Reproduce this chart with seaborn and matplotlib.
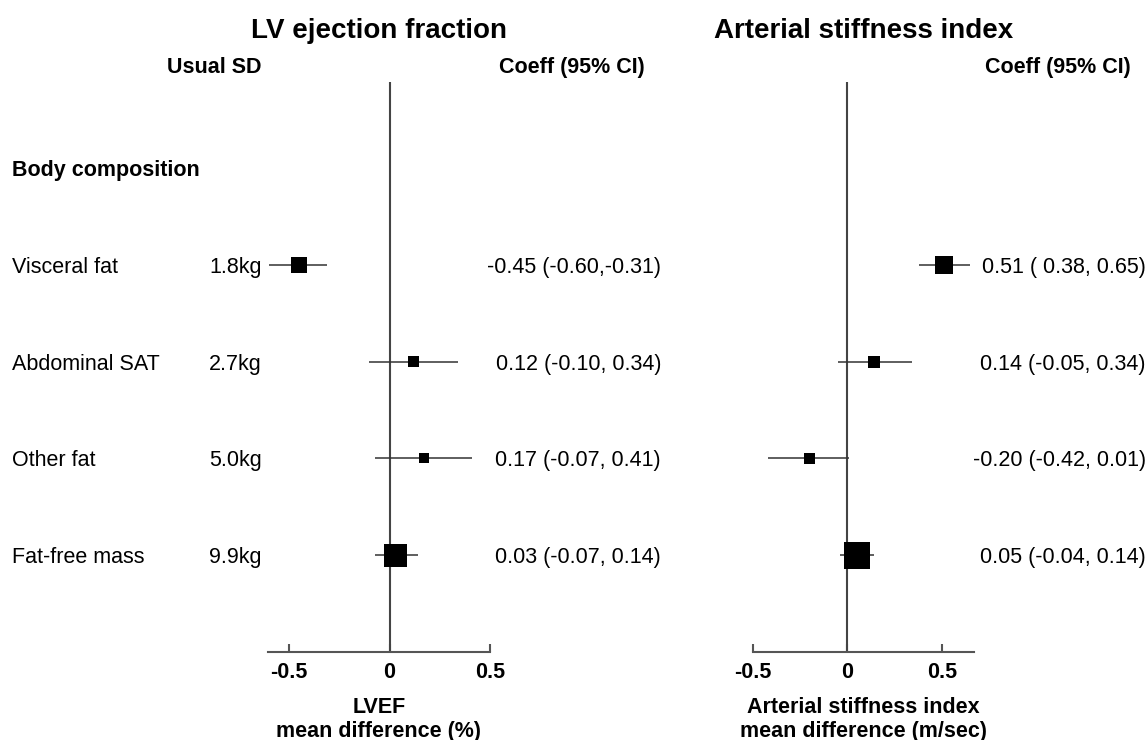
import numpy as np
import pandas as pd
import matplotlib
matplotlib.use("Agg")
import matplotlib.pyplot as plt
import matplotlib.transforms as mtransforms
import seaborn as sns

# ---------------- data ----------------
categories = ["Visceral fat", "Abdominal SAT", "Other fat", "Fat-free mass"]
usual_sd = ["1.8kg", "2.7kg", "5.0kg", "9.9kg"]
section_label = "Body composition"

lvef_coef = [-0.45, 0.12, 0.17, 0.03]
lvef_lo = [-0.60, -0.10, -0.07, -0.07]
lvef_hi = [-0.31, 0.34, 0.41, 0.14]

asi_coef = [0.51, 0.14, -0.20, 0.05]
asi_lo = [0.38, -0.05, -0.42, -0.04]
asi_hi = [0.65, 0.34, 0.01, 0.14]

xticks = [-0.5, 0, 0.5]
xtick_labels = ["-0.5", "0", "0.5"]

titles = ["LV ejection fraction", "Arterial stiffness index"]
xlabels = ["LVEF\nmean difference (%)", "Arterial stiffness index\nmean difference (m/sec)"]

# ---------------- style ----------------
sns.set_theme(style="white")
plt.rcParams["font.family"] = ["Liberation Sans", "DejaVu Sans"]
plt.rcParams["axes.unicode_minus"] = False

W, H = 1148, 740
fig = plt.figure(figsize=(W / 100, H / 100), dpi=100)
fig.patch.set_facecolor("white")

FS = 15.5
TFS = 20

ax1 = fig.add_axes([268 / W, (H - 652) / H, 222 / W, 570 / H])
ax2 = fig.add_axes([753 / W, (H - 652) / H, 221 / W, 570 / H])

rows = np.arange(len(categories))


def fmt(c, lo, hi):
    return f"{c:.2f} ({lo:5.2f},{hi:5.2f})"


def draw_panel(ax, coef, lo, hi, xlim, title, xlabel, coeff_center_px, coeff_right_px):
    df = pd.DataFrame({"coef": coef, "lo": lo, "hi": hi, "row": rows})
    width = df["hi"] - df["lo"]
    side_px = 4.8 / width
    s = (side_px * 0.72) ** 2
    ax.hlines(df["row"], df["lo"], df["hi"], color="#333333", lw=1.1, zorder=2)
    ax.axvline(0, color="#444444", lw=1.5, zorder=1)
    sns.scatterplot(data=df, x="coef", y="row", marker="s", color="black",
                    s=s.values, linewidth=0, ax=ax, legend=False, zorder=3)
    ax.set_xlim(*xlim)
    ax.set_ylim(4.0, -1.89)
    for sp in ["left", "right", "top"]:
        ax.spines[sp].set_visible(False)
    ax.spines["bottom"].set_color("#555555")
    ax.spines["bottom"].set_linewidth(1.5)
    ax.set_yticks([])
    ax.set_ylabel("")
    ax.set_xticks(xticks)
    ax.set_xticklabels(xtick_labels, fontsize=FS, fontweight="bold", color="black")
    ax.tick_params(axis="x", direction="in", length=6, width=1.5, color="#555555",
                   pad=7, bottom=True)
    ax.set_xlabel(xlabel, fontsize=FS, fontweight="bold", color="black", labelpad=10,
                  linespacing=1.2)
    ax.set_facecolor("white")
    ax.set_title(title, fontsize=TFS, fontweight="bold", color="black", pad=32)

    trans = mtransforms.blended_transform_factory(fig.transFigure, ax.transData)
    for r, c, l, h in zip(rows, coef, lo, hi):
        ax.text(coeff_right_px / W, r, fmt(c, l, h), transform=trans, ha="right",
                va="center_baseline", fontsize=FS, color="black")
    fig.text(coeff_center_px / W, 1 - 65 / H, "Coeff (95% CI)", ha="center",
             va="center_baseline", fontsize=FS, fontweight="bold", color="black")


draw_panel(ax1, lvef_coef, lvef_lo, lvef_hi, (-0.605, 0.5), titles[0], xlabels[0], 572, 661)
draw_panel(ax2, asi_coef, asi_lo, asi_hi, (-0.5, 0.67), titles[1], xlabels[1], 1058, 1146)

# left-hand labels
trans1 = mtransforms.blended_transform_factory(fig.transFigure, ax1.transData)
fig.text(214 / W, 1 - 65 / H, "Usual SD", ha="center", va="center_baseline",
         fontsize=FS, fontweight="bold", color="black")
ax1.text(12 / W, -1, section_label, transform=trans1, ha="left", va="center_baseline",
         fontsize=FS, fontweight="bold", color="black")
for r, name, sd in zip(rows, categories, usual_sd):
    ax1.text(12 / W, r, name, transform=trans1, ha="left", va="center_baseline",
             fontsize=FS, color="black")
    ax1.text(262 / W, r, sd, transform=trans1, ha="right", va="center_baseline",
             fontsize=FS, color="black")

fig.savefig("out.png", dpi=100, facecolor="white")
